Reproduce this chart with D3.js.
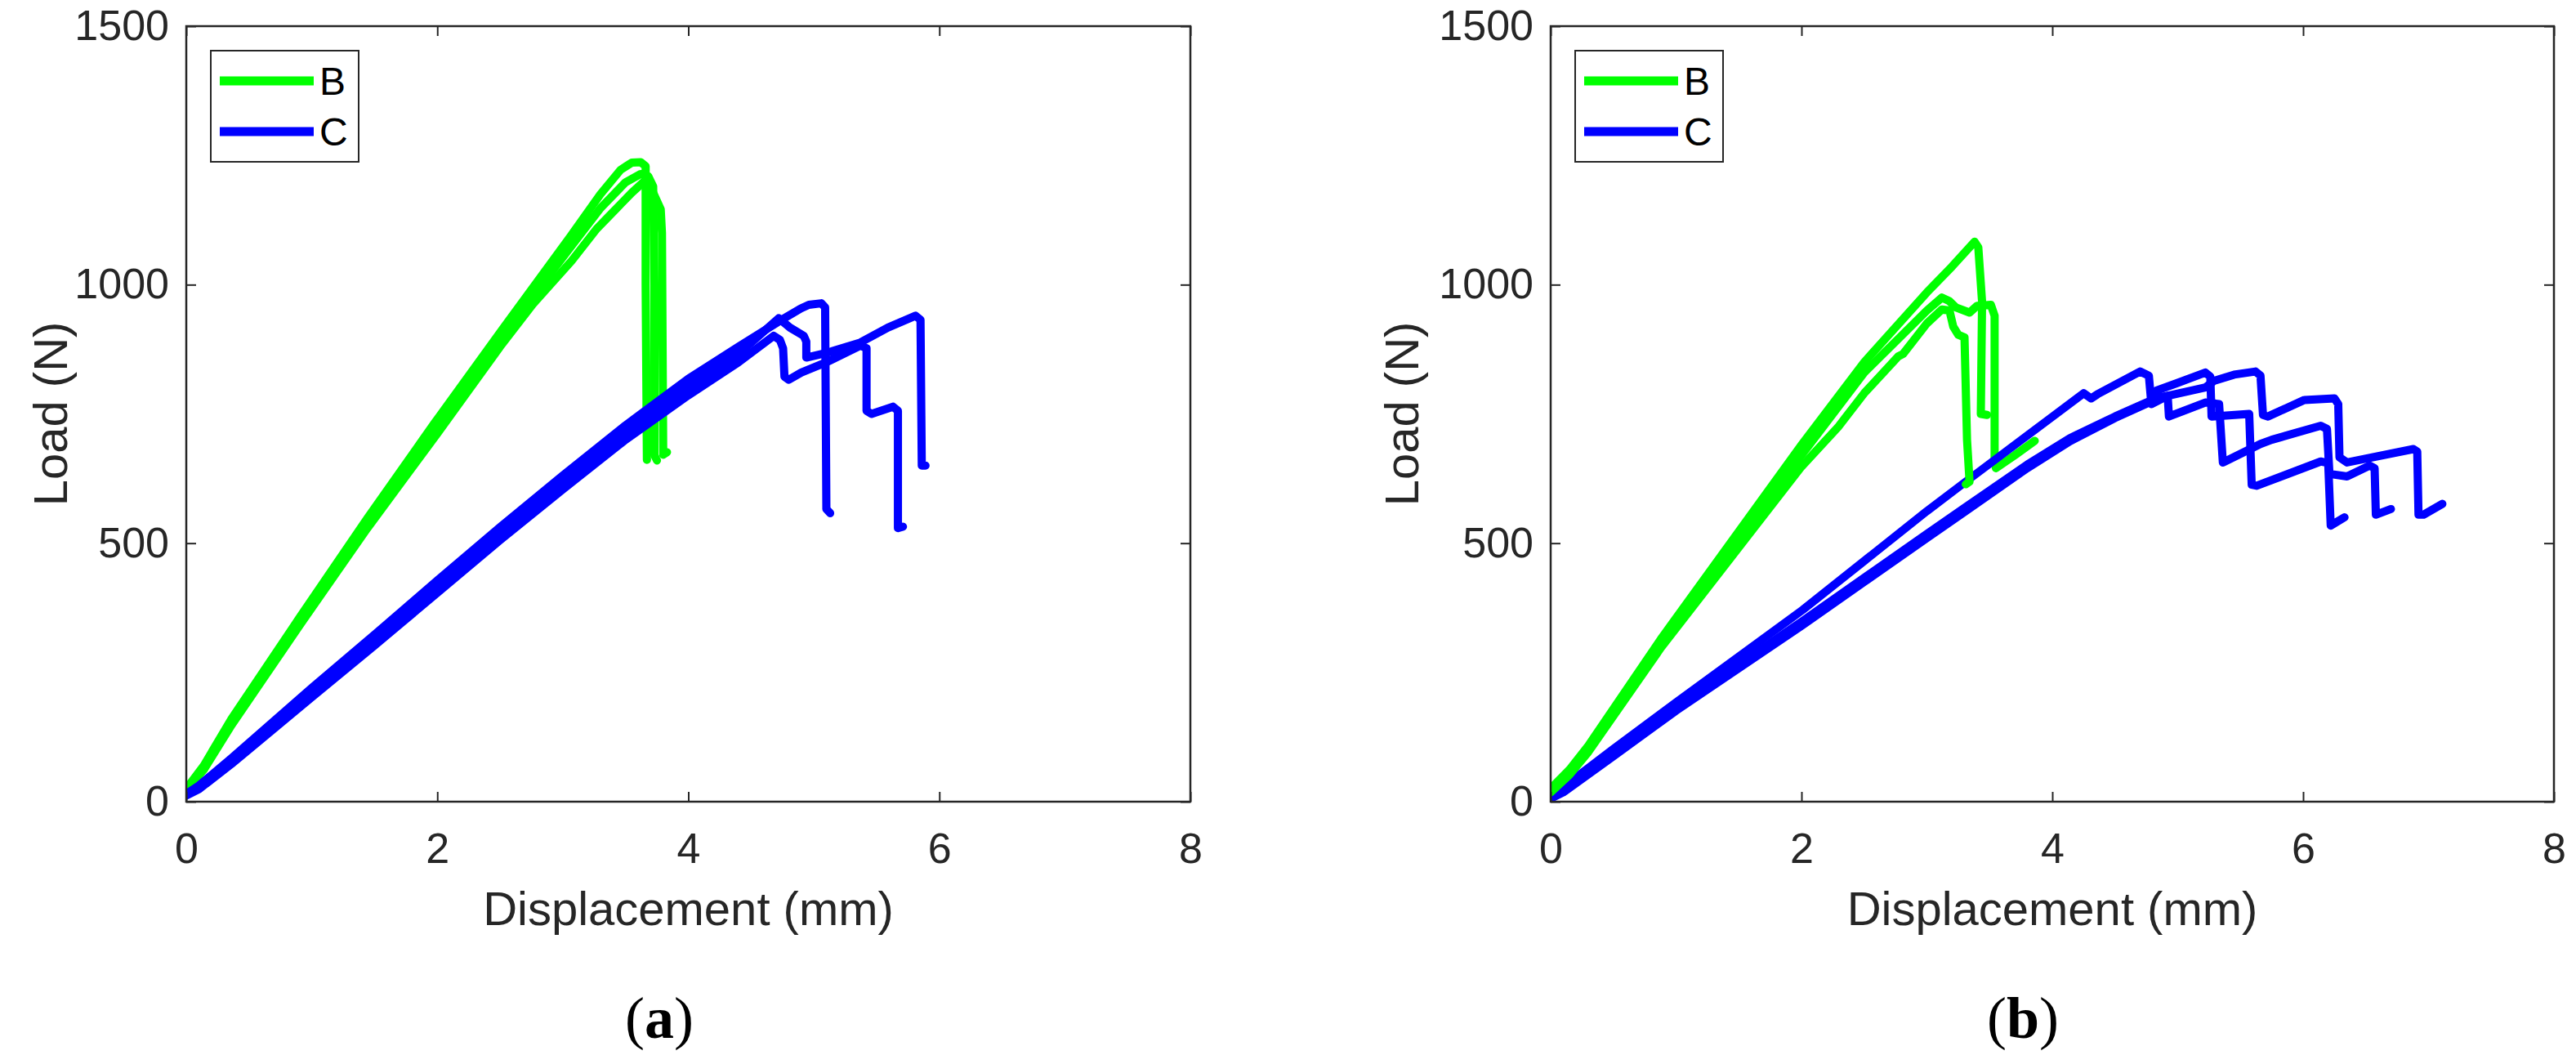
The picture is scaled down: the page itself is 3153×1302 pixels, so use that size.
<!DOCTYPE html>
<html>
<head>
<meta charset="utf-8">
<script src="https://cdn.jsdelivr.net/npm/d3@7"></script>
<style>
    body { margin: 0; background: #ffffff; }
    svg { display: block; }
</style>
</head>
<body>
<svg id="chart" width="3153" height="1302"></svg>
<script>
var xTicks = [0, 2, 4, 6, 8];
var yTicks = [0, 500, 1000, 1500];
var legendNames = ["B", "C"];
var legendColors = ["#00ff00", "#0000ff"];
var xTitle = "Displacement (mm)";
var yTitle = "Load (N)";
var captions = ["a", "b"];

// panel (a) - [displacement mm, load N]
var aGreen1 = [[0,25],[0.14,70],[0.36,160],[0.9,355],[1.44,547],[1.98,733],[2.52,914],[3.06,1093],[3.3,1175],[3.46,1222],[3.55,1236],[3.62,1237],[3.66,1229],[3.66,1000],[3.67,661]];
var aGreen2 = [[0,22],[0.14,62],[0.36,148],[0.9,340],[1.44,528],[2.0,712],[2.5,880],[2.76,962],[3.07,1046],[3.27,1108],[3.43,1148],[3.55,1178],[3.65,1200],[3.72,1178],[3.78,1146],[3.79,1100],[3.80,671],[3.83,676]];
var aGreen3 = [[0,24],[0.14,66],[0.36,155],[0.9,348],[1.44,538],[1.98,722],[2.52,900],[3.06,1072],[3.3,1148],[3.5,1198],[3.62,1214],[3.68,1210],[3.72,1190],[3.73,1000],[3.73,670],[3.75,660]];
var aBlue1 = [[0,15],[0.1,31],[0.36,84],[1.0,220],[1.5,323],[2.0,428],[2.5,531],[3.0,631],[3.5,728],[4.0,818],[4.4,880],[4.744,932],[4.896,954],[4.96,961],[5.06,964],[5.09,956],[5.10,566],[5.13,558]];
var aBlue2 = [[0,12],[0.1,24],[0.36,73],[1.0,202],[1.5,302],[2.0,404],[2.5,506],[3.0,604],[3.5,700],[4.0,786],[4.4,850],[4.68,901],[4.73,893],[4.755,877],[4.766,822],[4.80,816],[4.90,830],[5.11,851],[5.37,882],[5.42,877],[5.42,756],[5.46,750],[5.63,764],[5.67,756],[5.67,529],[5.71,532]];
var aBlue3 = [[0,14],[0.1,28],[0.36,79],[1.0,212],[1.5,313],[2.0,417],[2.5,519],[3.0,618],[3.5,714],[4.0,802],[4.4,866],[4.72,935],[4.81,917],[4.92,901],[4.94,890],[4.94,859],[5.1,868],[5.37,888],[5.59,917],[5.81,940],[5.85,932],[5.86,650],[5.89,650]];

// panel (b)
var bGreen1 = [[0,25],[0.15,62],[0.3,108],[0.88,315],[2.0,690],[2.5,850],[3.0,985],[3.2,1035],[3.38,1083],[3.41,1072],[3.44,967],[3.43,750],[3.48,748]];
var bGreen2 = [[0,18],[0.15,52],[0.3,96],[0.88,298],[2.0,648],[2.29,724],[2.5,790],[2.77,861],[2.81,866],[3.0,925],[3.12,952],[3.18,950],[3.21,919],[3.25,903],[3.30,898],[3.32,700],[3.34,619],[3.31,614]];
var bGreen3 = [[0,22],[0.15,58],[0.3,102],[0.88,306],[2.0,670],[2.5,830],[3.0,950],[3.12,975],[3.18,968],[3.23,956],[3.34,946],[3.40,959],[3.51,961],[3.54,940],[3.54,666],[3.55,645],[3.7,670],[3.86,698]];
var bBlue1 = [[0,12],[0.1,28],[0.5,102],[1.0,192],[2.01,371],[3.0,562],[3.31,619],[3.8,708],[4.25,790],[4.31,780],[4.36,788],[4.70,832],[4.77,824],[4.79,769],[4.92,785],[5.22,801],[5.29,814],[5.45,826],[5.62,832],[5.66,824],[5.68,748],[5.72,745],[6.01,777],[6.25,780],[6.28,769],[6.29,666],[6.35,656],[6.88,682],[6.91,677],[6.92,555],[6.96,555],[7.11,576]];
var bBlue2 = [[0,8],[0.1,22],[0.5,95],[1.0,182],[2.0,348],[3.0,518],[3.31,570],[3.8,652],[4.14,703],[4.5,745],[4.75,772],[4.85,782],[4.92,785],[4.93,745],[5.22,772],[5.30,770],[5.33,769],[5.36,656],[5.66,692],[5.75,700],[6.14,727],[6.19,721],[6.21,634],[6.35,629],[6.53,650],[6.57,645],[6.58,555],[6.70,566]];
var bBlue3 = [[0,6],[0.1,18],[0.5,88],[1.0,176],[2.0,340],[3.0,510],[3.31,562],[3.8,645],[4.14,697],[4.5,742],[4.77,772],[4.83,795],[5.0,810],[5.22,830],[5.26,822],[5.27,745],[5.57,750],[5.59,613],[5.63,611],[6.14,658],[6.20,655],[6.22,534],[6.33,550]];

var axisColor = "#262626";
var font = "'Liberation Sans', Arial, Helvetica, sans-serif";
var plotTop = 32, plotBottom = 981;

var panels = [
    { left: 228, right: 1457, yLabelX: 62, captionX: 807, caption: captions[0],
      curves: [[aGreen1, 0], [aGreen2, 0], [aGreen3, 0], [aBlue2, 1], [aBlue3, 1], [aBlue1, 1]] },
    { left: 1898, right: 3126, yLabelX: 1716, captionX: 2476, caption: captions[1],
      curves: [[bGreen3, 0], [bBlue2, 1], [bBlue3, 1], [bBlue1, 1], [bGreen2, 0], [bGreen1, 0]] }
];

var svg = d3.select("#chart");
svg.append("rect").attr("width", 3153).attr("height", 1302).attr("fill", "#ffffff");

function drawPanel(p) {
    var x = d3.scaleLinear().domain([0, 8]).range([p.left, p.right]);
    var y = d3.scaleLinear().domain([0, 1500]).range([plotBottom, plotTop]);
    var g = svg.append("g");

    var line = d3.line()
        .x(function(d) { return x(d[0]); })
        .y(function(d) { return y(d[1]); });

    // curves, clipped to the plot box
    var clip = "clip" + p.caption;
    svg.append("clipPath").attr("id", clip)
        .append("rect")
        .attr("x", p.left).attr("y", plotTop)
        .attr("width", p.right - p.left).attr("height", plotBottom - plotTop);

    g.append("g").attr("clip-path", "url(#" + clip + ")")
        .selectAll("path")
        .data(p.curves)
        .enter().append("path")
        .attr("d", function(c) { return line(c[0]); })
        .attr("fill", "none")
        .attr("stroke", function(c) { return legendColors[c[1]]; })
        .attr("stroke-width", 10)
        .attr("stroke-linejoin", "round")
        .attr("stroke-linecap", "round");

    // axes, ticks pointing inward
    var fmt = d3.format("d");
    var bottomAxis = d3.axisBottom(x).tickValues(xTicks).tickFormat(fmt).tickSizeInner(-12).tickSizeOuter(0).tickPadding(38);
    var topAxis = d3.axisTop(x).tickValues(xTicks).tickSizeInner(-12).tickSizeOuter(0).tickFormat("");
    var leftAxis = d3.axisLeft(y).tickValues(yTicks).tickFormat(fmt).tickSizeInner(-12).tickSizeOuter(0).tickPadding(21);
    var rightAxis = d3.axisRight(y).tickValues(yTicks).tickSizeInner(-12).tickSizeOuter(0).tickFormat("");

    var axes = [
        g.append("g").attr("transform", "translate(0," + plotBottom + ")").call(bottomAxis),
        g.append("g").attr("transform", "translate(0," + plotTop + ")").call(topAxis),
        g.append("g").attr("transform", "translate(" + p.left + ",0)").call(leftAxis),
        g.append("g").attr("transform", "translate(" + p.right + ",0)").call(rightAxis)
    ];
    axes.forEach(function(a) {
        a.select(".domain").remove();
        a.selectAll("line").attr("stroke", axisColor).attr("stroke-width", 2);
        a.selectAll("text")
            .attr("fill", axisColor)
            .style("font-family", font)
            .style("font-size", "52px");
    });

    g.append("rect")
        .attr("x", p.left).attr("y", plotTop)
        .attr("width", p.right - p.left).attr("height", plotBottom - plotTop)
        .attr("fill", "none")
        .attr("stroke", axisColor)
        .attr("stroke-width", 2.5);

    // axis titles
    g.append("text")
        .attr("x", (p.left + p.right) / 2)
        .attr("y", 1132)
        .attr("text-anchor", "middle")
        .attr("fill", axisColor)
        .style("font-family", font)
        .style("font-size", "58px")
        .text(xTitle);

    g.append("text")
        .attr("transform", "translate(" + p.yLabelX + "," + (plotTop + plotBottom) / 2 + ")rotate(-90)")
        .attr("text-anchor", "middle")
        .attr("dy", "0.35em")
        .attr("fill", axisColor)
        .style("font-family", font)
        .style("font-size", "58px")
        .text(yTitle);

    // legend
    var lg = g.append("g").attr("transform", "translate(" + (p.left + 30) + ",62)");
    lg.append("rect")
        .attr("width", 181).attr("height", 136)
        .attr("fill", "#ffffff")
        .attr("stroke", axisColor)
        .attr("stroke-width", 2);
    var item = lg.selectAll(".item")
        .data(legendNames)
        .enter().append("g")
        .attr("class", "item")
        .attr("transform", function(d, i) { return "translate(0," + (37 + i * 62) + ")"; });
    item.append("line")
        .attr("x1", 11).attr("x2", 126)
        .attr("stroke", function(d, i) { return legendColors[i]; })
        .attr("stroke-width", 11);
    item.append("text")
        .attr("x", 133)
        .attr("dy", "0.36em")
        .attr("fill", "#000000")
        .style("font-family", font)
        .style("font-size", "48px")
        .text(function(d) { return d; });

    // caption (a) / (b)
    var cap = svg.append("text")
        .attr("x", p.captionX)
        .attr("y", 1270)
        .attr("text-anchor", "middle")
        .attr("fill", "#000000")
        .style("font-family", "'Liberation Serif', 'Times New Roman', serif")
        .style("font-size", "72px");
    cap.append("tspan").text("(");
    cap.append("tspan").style("font-weight", "bold").text(p.caption);
    cap.append("tspan").text(")");
}

panels.forEach(drawPanel);
</script>
</body>
</html>
